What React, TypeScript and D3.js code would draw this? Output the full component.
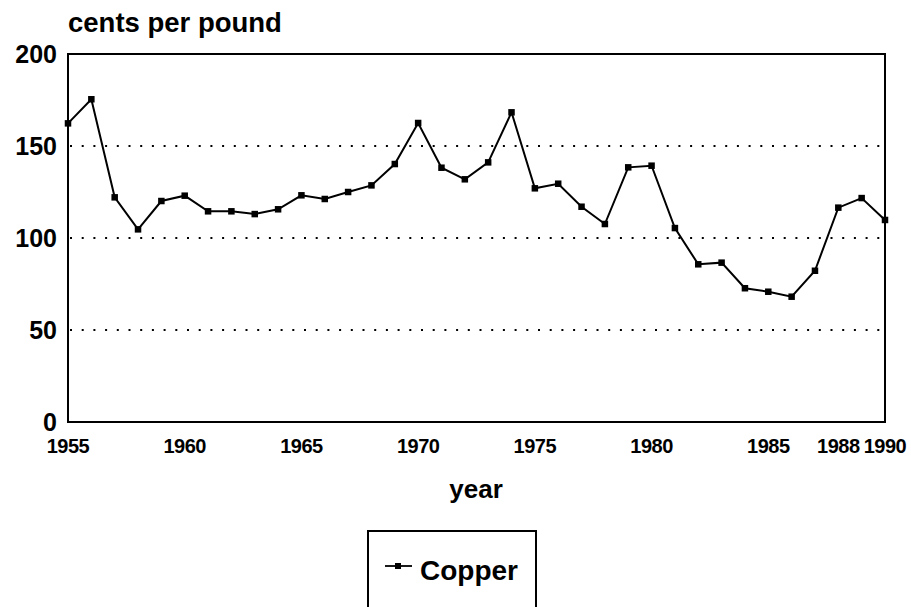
import React from "react";
import * as d3 from "d3";

const years: number[] = [
  1955, 1956, 1957, 1958, 1959, 1960, 1961, 1962, 1963, 1964, 1965, 1966,
  1967, 1968, 1969, 1970, 1971, 1972, 1973, 1974, 1975, 1976, 1977, 1978,
  1979, 1980, 1981, 1982, 1983, 1984, 1985, 1986, 1987, 1988, 1989, 1990,
];
const copper: number[] = [
  162.3, 175.4, 122.1, 104.7, 120.1, 123.0, 114.5, 114.5, 113.0, 115.6, 123.2,
  121.2, 125.0, 128.6, 140.2, 162.5, 138.2, 131.9, 141.1, 168.3, 127.0, 129.5,
  117.0, 107.6, 138.4, 139.3, 105.4, 85.7, 86.6, 72.7, 70.8, 68.1, 82.2, 116.5,
  121.7, 109.8,
];
const xTicks: number[] = [1955, 1960, 1965, 1970, 1975, 1980, 1985, 1988, 1990];
const yTicks: number[] = [0, 50, 100, 150, 200];
const gridValues: number[] = [50, 100, 150];
const seriesName = "Copper";
const yTitle = "cents per pound";
const xTitle = "year";

const W = 911;
const H = 607;
const left = 68;
const right = 885;
const top = 54;
const bottom = 422;
const font = "'Liberation Sans', Arial, Helvetica, sans-serif";

export default function App() {
  const x = d3.scaleLinear().domain([1955, 1990]).range([left, right]);
  const y = d3.scaleLinear().domain([0, 200]).range([bottom, top]);
  const data = years.map((yr, i) => ({ yr, v: copper[i] }));
  const line = d3
    .line<{ yr: number; v: number }>()
    .x((d) => x(d.yr))
    .y((d) => y(d.v));
  const ms = 6.5;

  return (
    <svg
      width={W}
      height={H}
      style={{ position: "absolute", left: 0, top: 0, background: "#fff" }}
      fontFamily={font}
    >
      <rect x={0} y={0} width={W} height={H} fill="#fff" />
      {gridValues.map((g) => (
        <line
          key={g}
          x1={left + 2}
          x2={right}
          y1={y(g)}
          y2={y(g)}
          stroke="#000"
          strokeWidth={2}
          strokeDasharray="2 9.7"
        />
      ))}
      <rect
        x={left}
        y={top}
        width={right - left}
        height={bottom - top}
        fill="none"
        stroke="#000"
        strokeWidth={2}
      />
      {yTicks.map((t) => (
        <text
          key={t}
          x={57}
          y={y(t)}
          dy="0.36em"
          textAnchor="end"
          fontSize={25}
          fontWeight="bold"
        >
          {t}
        </text>
      ))}
      {xTicks.map((t) => (
        <text
          key={t}
          x={x(t)}
          y={453}
          textAnchor="middle"
          fontSize={20}
          fontWeight="bold"
          letterSpacing={-0.5}
        >
          {t}
        </text>
      ))}
      <path d={line(data) || ""} fill="none" stroke="#000" strokeWidth={2} />
      {data.map((d) => (
        <rect
          key={d.yr}
          x={x(d.yr) - ms / 2}
          y={y(d.v) - ms / 2}
          width={ms}
          height={ms}
          fill="#000"
        />
      ))}
      <text x={68} y={32} fontSize={27.5} fontWeight="bold">
        {yTitle}
      </text>
      <text x={476} y={498} textAnchor="middle" fontSize={26} fontWeight="bold">
        {xTitle}
      </text>
      <rect
        x={368}
        y={531}
        width={168}
        height={90}
        fill="none"
        stroke="#000"
        strokeWidth={2}
      />
      <line x1={385} x2={412} y1={566} y2={566} stroke="#000" strokeWidth={1.8} />
      <rect x={398 - 3} y={566 - 3} width={6} height={6} fill="#000" />
      <text x={420} y={580} fontSize={28} fontWeight="bold">
        {seriesName}
      </text>
    </svg>
  );
}
